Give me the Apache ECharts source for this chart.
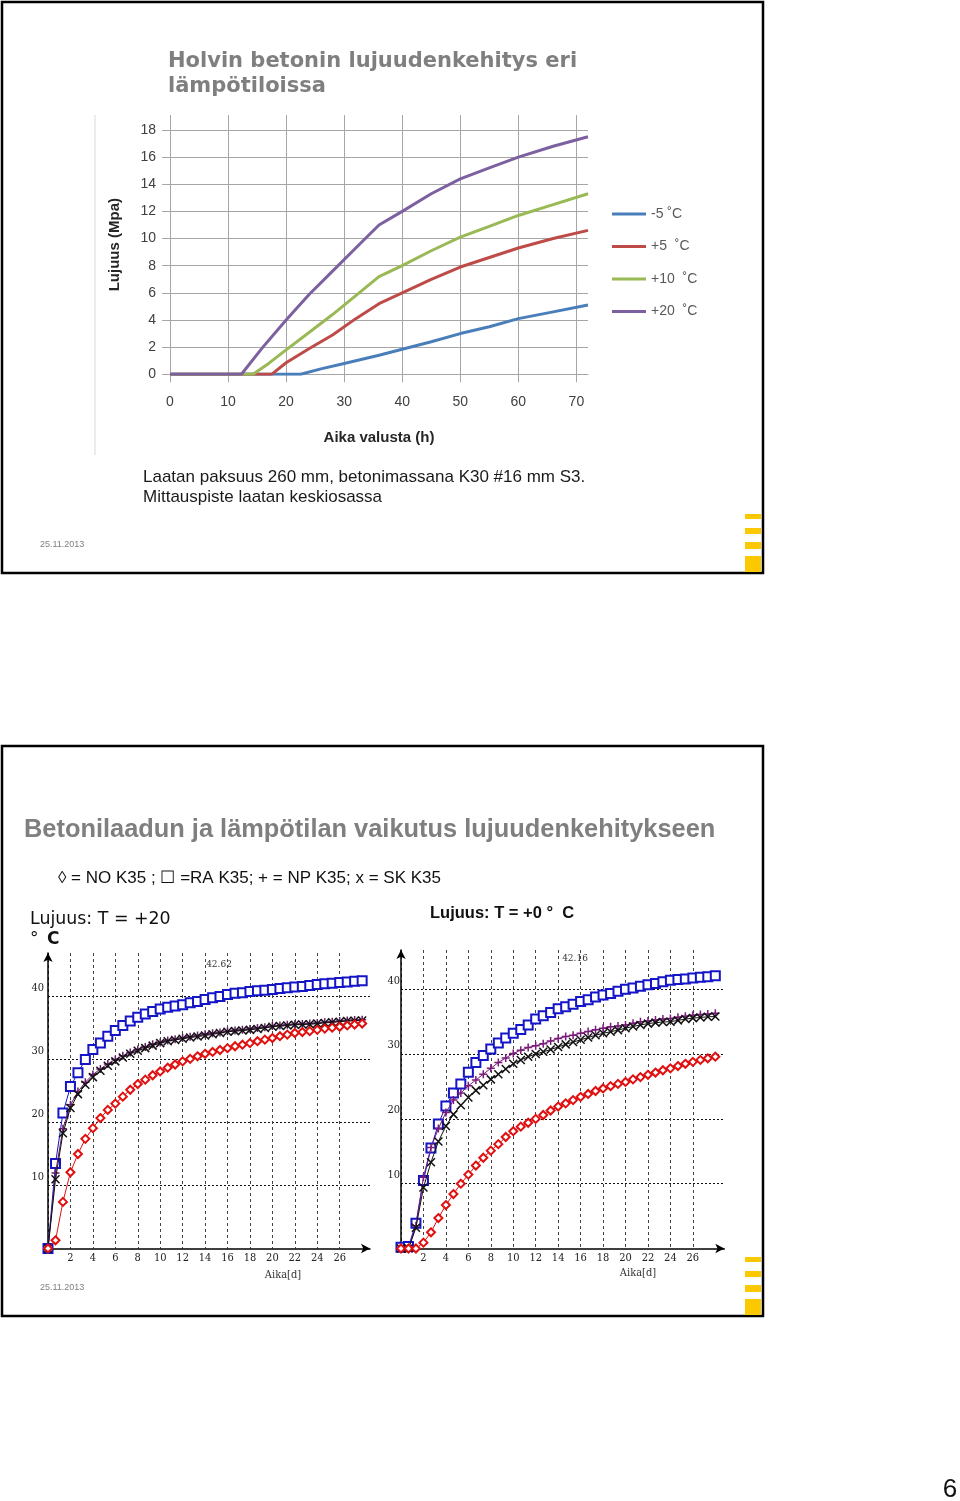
<!DOCTYPE html>
<html><head><meta charset="utf-8">
<script src="https://cdn.jsdelivr.net/npm/echarts@6/dist/echarts.min.js"></script>
<style>html,body{margin:0;padding:0;background:#fff}#c{width:960px;height:1501px}</style>
</head><body><div id="c"></div><script>
// ---------- Slide 1 data (hours -> MPa) ----------
var hoursM5  = [0, 22.5, 26, 30, 36, 40, 45, 50, 55, 60, 66, 72];
var valsM5   = [0, 0, 0.4, 0.8, 1.4, 1.85, 2.4, 3.0, 3.5, 4.1, 4.6, 5.1];
var hoursP5  = [0, 17.5, 20, 24, 28, 32, 36, 40, 45, 50, 55, 60, 66, 72];
var valsP5   = [0, 0, 0.85, 1.9, 2.9, 4.1, 5.2, 6.0, 7.0, 7.9, 8.6, 9.3, 10.0, 10.6];
var hoursP10 = [0, 14.3, 17, 20, 24, 28, 32, 36, 40, 45, 50, 55, 60, 66, 72];
var valsP10  = [0, 0, 0.8, 1.8, 3.1, 4.4, 5.8, 7.2, 8.0, 9.1, 10.1, 10.9, 11.7, 12.5, 13.3];
var hoursP20 = [0, 12.3, 16, 20, 24, 28, 32, 36, 40, 45, 50, 55, 60, 66, 72];
var valsP20  = [0, 0, 2.0, 4.0, 5.9, 7.6, 9.3, 11.0, 12.0, 13.3, 14.4, 15.2, 16.0, 16.8, 17.5];
var seriesNames1 = ['-5 \u02daC', '+5  \u02daC', '+10  \u02daC', '+20  \u02daC'];

// ---------- Slide 2 data (days -> MPa) ----------
var days = [0,0.67,1.33,2,2.67,3.33,4,4.67,5.33,6,6.67,7.33,8,8.67,9.33,10,10.67,11.33,12,12.67,13.33,14,14.67,15.33,16,16.67,17.33,18,18.67,19.33,20,20.67,21.33,22,22.67,23.33,24,24.67,25.33,26,26.67,27.33,28];
// T = +20 C
var ra20 = [0,13.5,21.5,25.7,27.9,30.0,31.6,32.6,33.7,34.6,35.4,36.1,36.7,37.2,37.6,38.0,38.3,38.5,38.7,39.0,39.2,39.5,39.8,40.0,40.3,40.5,40.6,40.8,40.9,41.0,41.1,41.25,41.4,41.5,41.6,41.75,41.9,42.0,42.1,42.2,42.3,42.4,42.5];
var sk20 = [0,11.0,18.3,22.3,24.5,26.0,27.2,28.2,29.0,29.7,30.3,30.9,31.4,31.8,32.2,32.6,32.9,33.1,33.3,33.5,33.65,33.8,34.0,34.2,34.4,34.5,34.6,34.7,34.85,35.0,35.2,35.3,35.4,35.5,35.55,35.6,35.7,35.8,35.9,36.0,36.1,36.15,36.2];
var np20 = [0,12.0,19.0,22.8,24.9,26.4,27.6,28.5,29.3,30.0,30.6,31.1,31.6,32.0,32.4,32.7,33.0,33.2,33.4,33.6,33.8,34.0,34.15,34.3,34.5,34.6,34.7,34.85,35.0,35.1,35.3,35.4,35.5,35.6,35.65,35.7,35.8,35.9,36.0,36.1,36.2,36.25,36.3];
var no20 = [0,1.3,7.4,12.1,15.0,17.4,19.1,20.7,22.0,23.0,24.1,25.2,26.1,26.8,27.5,28.1,28.7,29.2,29.7,30.1,30.5,30.9,31.2,31.5,31.8,32.1,32.35,32.6,32.9,33.15,33.4,33.7,33.95,34.2,34.35,34.5,34.7,34.9,35.05,35.2,35.4,35.55,35.7];
// T = 0 C
var ra0 = [0.2,0.3,3.9,10.5,15.5,19.2,22.0,24.0,25.4,27.2,28.7,29.8,30.8,31.7,32.5,33.2,33.8,34.5,35.4,35.9,36.4,37.0,37.3,37.7,38.1,38.4,38.8,39.1,39.35,39.7,40.0,40.2,40.45,40.7,40.9,41.15,41.4,41.5,41.6,41.75,41.85,41.95,42.1];
var np0 = [0,0,3.5,11.0,15.6,18.5,21.0,22.9,24.0,25.1,26.0,26.9,27.8,28.7,29.4,30.1,30.6,31.0,31.3,31.6,32.0,32.4,32.7,32.9,33.2,33.5,33.75,34.0,34.2,34.35,34.5,34.75,35.0,35.1,35.25,35.4,35.5,35.7,35.85,36.0,36.1,36.2,36.3];
var sk0 = [0,0,3.2,9.4,13.3,16.5,18.9,20.7,22.1,23.3,24.4,25.2,26.1,26.9,27.7,28.5,29.1,29.6,30.0,30.35,30.7,31.1,31.5,31.85,32.2,32.55,32.9,33.2,33.45,33.7,34.0,34.25,34.5,34.7,34.85,34.95,35.0,35.2,35.4,35.55,35.65,35.75,35.8];
var no0 = [0,0,0,0.9,2.5,4.7,6.7,8.4,10.0,11.4,12.8,14.0,15.1,16.1,17.2,18.1,18.8,19.4,20.0,20.6,21.3,21.9,22.4,22.9,23.4,23.85,24.3,24.7,25.05,25.4,25.7,26.1,26.45,26.8,27.15,27.5,27.8,28.15,28.5,28.8,29.1,29.35,29.6];

function pairs(xs, ys){ return xs.map(function(x,i){ return [x, ys[i]]; }); }

var chart = echarts.init(document.getElementById('c'), null, {renderer:'canvas'});
var SANS = '"Liberation Sans", Arial, sans-serif';
var SERIFC = '"DejaVu Serif Condensed", "Liberation Serif", serif';

function txt(x, y, text, font, fill, align, valign){
  return {type:'text', x:x, y:y, silent:true,
    style:{text:text, font:font, fill:fill||'#000', align:align||'left', verticalAlign:valign||'middle'}};
}

var topGridColor = '#a6a6a6';
var smallVColors = []; for (var i=0;i<14;i++) smallVColors.push('#444'); smallVColors.push('rgba(0,0,0,0)'); smallVColors.push('rgba(0,0,0,0)');
var smallHColors = ['rgba(0,0,0,0)','#111','#111','#111','#111','rgba(0,0,0,0)'];

function smallX(gi, max){
  return {gridIndex:gi, type:'value', min:0, max:max, interval:2,
    axisLine:{show:true, onZero:false, symbol:['none','arrow'], symbolSize:[7,9], lineStyle:{color:'#000', width:1.5}},
    axisTick:{show:false},
    axisLabel:{fontFamily:SERIFC, fontSize:11, color:'#222', margin:4,
      formatter:function(v){ return (v>0 && v<27) ? String(v) : ''; }},
    splitLine:{show:true, lineStyle:{color:smallVColors, type:[3,3], width:1}}};
}
function smallY(gi, max, margin){
  return {gridIndex:gi, type:'value', min:0, max:max, interval:10,
    axisLine:{show:true, onZero:false, symbol:['none','arrow'], symbolSize:[7,9], lineStyle:{color:'#000', width:1.5}},
    axisTick:{show:false},
    axisLabel:{fontFamily:SERIFC, fontSize:11, color:'#222', margin:margin, verticalAlign:'bottom', padding:[0,0,3,0],
      formatter:function(v){ return (v>0 && v<45) ? String(v) : ''; }},
    splitLine:{show:true, lineStyle:{color:smallHColors, type:[2,2], width:1}}};
}
function markSeries(name, gi, ys, symbol, size, color, z){
  return {name:name, type:'line', xAxisIndex:gi, yAxisIndex:gi, data:pairs(days, ys),
    symbol:symbol, symbolSize:size, showSymbol:true, z:z, animation:false,
    lineStyle:{color:color, width:1},
    itemStyle:{color:color, borderColor:color, borderWidth:1.5}};
}
var PLUS = 'path://M5 0L5 10M0 5L10 5';
var CROSS = 'path://M0 0L10 10M10 0L0 10';

var option = {
  animation:false,
  backgroundColor:'#fff',
  legend:{data:seriesNames1, orient:'vertical', left:607, top:201, icon:'rect', itemWidth:34, itemHeight:3,
    itemGap:16.5, textStyle:{fontFamily:SANS, fontSize:14, color:'#595959', lineHeight:16}, selectedMode:false},
  grid:[
    {left:170, top:115, width:418, height:259.3, containLabel:false},
    {left:48, top:953, width:322, height:295.5},
    {left:401, top:950, width:323.3, height:298.5}
  ],
  xAxis:[
    {gridIndex:0, type:'value', min:0, max:72, interval:10,
      name:'Aika valusta (h)', nameLocation:'middle', nameGap:56,
      nameTextStyle:{fontFamily:SANS, fontSize:15, fontWeight:'bold', color:'#262626'},
      axisLine:{show:true, lineStyle:{color:topGridColor}}, axisTick:{show:true, length:8, lineStyle:{color:topGridColor}},
      axisLabel:{fontFamily:SANS, fontSize:14, color:'#404040', margin:21, showMaxLabel:false},
      splitLine:{show:true, showMaxLine:false, lineStyle:{color:topGridColor, width:1}}},
    smallX(1, 28.7), smallX(2, 28.8)
  ],
  yAxis:[
    {gridIndex:0, type:'value', min:0, max:19.1, interval:2,
      name:'Lujuus (Mpa)', nameLocation:'middle', nameGap:48, nameRotate:90,
      nameTextStyle:{fontFamily:SANS, fontSize:15, fontWeight:'bold', color:'#262626'},
      axisLine:{show:false}, axisTick:{show:true, length:8, lineStyle:{color:topGridColor}},
      axisLabel:{fontFamily:SANS, fontSize:14, color:'#404040', margin:14, showMaxLabel:false},
      splitLine:{show:true, showMaxLine:false, lineStyle:{color:topGridColor, width:1}}},
    smallY(1, 46.9, 4), smallY(2, 46.06, 1)
  ],
  series:[
    {name:seriesNames1[0], type:'line', xAxisIndex:0, yAxisIndex:0, data:pairs(hoursM5, valsM5), symbol:'none', lineStyle:{width:3, color:'#4a7ebb'}, itemStyle:{color:'#4a7ebb'}, z:3},
    {name:seriesNames1[1], type:'line', xAxisIndex:0, yAxisIndex:0, data:pairs(hoursP5, valsP5), symbol:'none', lineStyle:{width:3, color:'#be4b48'}, itemStyle:{color:'#be4b48'}, z:4},
    {name:seriesNames1[2], type:'line', xAxisIndex:0, yAxisIndex:0, data:pairs(hoursP10, valsP10), symbol:'none', lineStyle:{width:3, color:'#98b954'}, itemStyle:{color:'#98b954'}, z:5},
    {name:seriesNames1[3], type:'line', xAxisIndex:0, yAxisIndex:0, data:pairs(hoursP20, valsP20), symbol:'none', lineStyle:{width:3, color:'#7d60a0'}, itemStyle:{color:'#7d60a0'}, z:6},

    markSeries('RA K35 +20', 1, ra20, 'emptyRect', 9, '#1515c8', 3),
    markSeries('NP K35 +20', 1, np20, PLUS, 8, '#6a1a6a', 4),
    markSeries('SK K35 +20', 1, sk20, CROSS, 8, '#111111', 5),
    markSeries('NO K35 +20', 1, no20, 'emptyDiamond', 8, '#e01010', 6),

    markSeries('RA K35 0', 2, ra0, 'emptyRect', 9, '#1515c8', 3),
    markSeries('NP K35 0', 2, np0, PLUS, 8, '#7a1a7a', 4),
    markSeries('SK K35 0', 2, sk0, CROSS, 8, '#111111', 5),
    markSeries('NO K35 0', 2, no0, 'emptyDiamond', 8, '#e01010', 6)
  ],
  graphic:[
    {type:'rect', shape:{x:2, y:2, width:761, height:571}, style:{fill:'none', stroke:'#000', lineWidth:2.5}, silent:true, z:-1},
    {type:'rect', shape:{x:2, y:746, width:761, height:570}, style:{fill:'none', stroke:'#000', lineWidth:2.5}, silent:true, z:-1},
    {type:'rect', shape:{x:745, y:514, width:16, height:5}, style:{fill:'#fcc800'}, silent:true},
    {type:'rect', shape:{x:745, y:528, width:16, height:6}, style:{fill:'#fcc800'}, silent:true},
    {type:'rect', shape:{x:745, y:542, width:16, height:7}, style:{fill:'#fcc800'}, silent:true},
    {type:'rect', shape:{x:745, y:556, width:16, height:16}, style:{fill:'#fcc800'}, silent:true},
    {type:'rect', shape:{x:745, y:1257, width:16, height:5}, style:{fill:'#fcc800'}, silent:true},
    {type:'rect', shape:{x:745, y:1271, width:16, height:6}, style:{fill:'#fcc800'}, silent:true},
    {type:'rect', shape:{x:745, y:1285, width:16, height:7}, style:{fill:'#fcc800'}, silent:true},
    {type:'rect', shape:{x:745, y:1299, width:16, height:16}, style:{fill:'#fcc800'}, silent:true},
    {type:'line', shape:{x1:95, y1:115, x2:95, y2:455}, style:{stroke:'#d9d9d9', lineWidth:1}, silent:true},
    txt(168, 62, 'Holvin betonin lujuudenkehitys eri', 'bold 21px "DejaVu Sans", Verdana, sans-serif', '#7f7f7f'),
    txt(168, 87, 'l\u00e4mp\u00f6tiloissa', 'bold 21px "DejaVu Sans", Verdana, sans-serif', '#7f7f7f'),
    txt(143, 477, 'Laatan paksuus 260 mm, betonimassana K30 #16 mm S3.', '17px ' + SANS, '#1a1a1a'),
    txt(143, 497, 'Mittauspiste laatan keskiosassa', '17px ' + SANS, '#1a1a1a'),
    txt(40, 545, '25.11.2013', '9px ' + SANS, '#7f7f7f'),
    txt(24, 830, 'Betonilaadun ja l\u00e4mp\u00f6tilan vaikutus lujuudenkehitykseen', 'bold 25.4px ' + SANS, '#7f7f7f'),
    txt(58, 878, '\u25ca = NO K35 ; \u2610 =RA K35; + = NP K35; x = SK K35', '17px ' + SANS, '#111'),
    txt(30, 919, 'Lujuus: T = +20', '17.4px "DejaVu Sans", sans-serif', '#111'),
    txt(30, 940, '\u00b0', '17px "DejaVu Sans", sans-serif', '#111'),
    txt(47, 940, 'C', 'bold 17px "DejaVu Sans", sans-serif', '#111'),
    txt(430, 913, 'Lujuus: T = +0 \u00b0  C', 'bold 16.5px ' + SANS, '#111'),
    txt(219, 964, '42.62', '10px ' + SERIFC, '#333', 'center'),
    txt(575, 958, '42.16', '10px ' + SERIFC, '#333', 'center'),
    txt(283, 1275, 'Aika[d]', '11px ' + SERIFC, '#333', 'center'),
    txt(638, 1273, 'Aika[d]', '11px ' + SERIFC, '#333', 'center'),
    txt(40, 1288, '25.11.2013', '9px ' + SANS, '#7f7f7f'),
    txt(950, 1490, '6', '26px ' + SANS, '#111', 'center')
  ]
};
chart.setOption(option);
</script></body></html>
